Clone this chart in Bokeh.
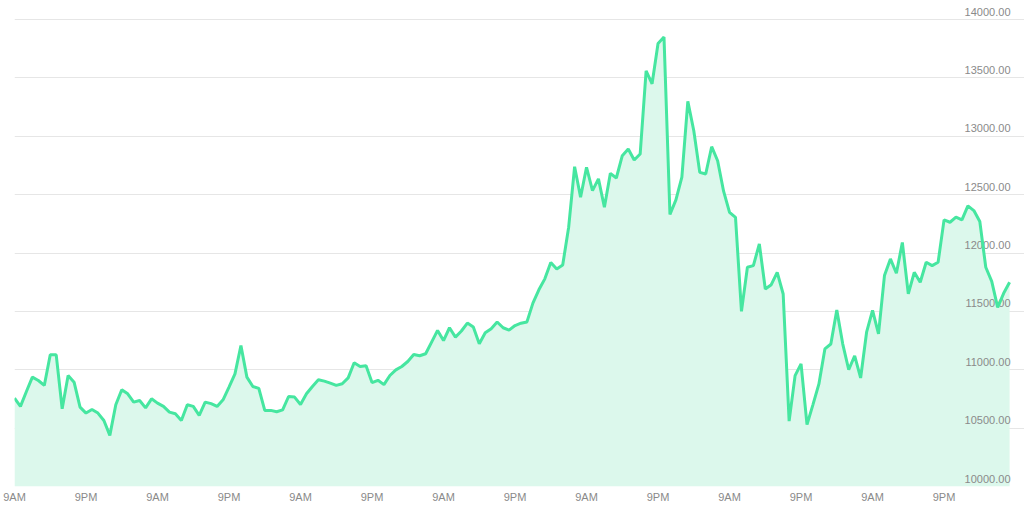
from bokeh.plotting import figure
from bokeh.models import Range1d, FixedTicker
from bokeh.embed import file_html
from bokeh.resources import INLINE
from bokeh.core.properties import value

# hourly prices, starting 9AM day 1
prices = [
    10757, 10686, 10814, 10937, 10908, 10866, 11128, 11128, 10666, 10950,
    10894, 10680, 10629, 10660, 10629, 10566, 10438, 10700, 10829, 10794,
    10723, 10737, 10674, 10751, 10714, 10686, 10637, 10623, 10566, 10700,
    10686, 10609, 10723, 10710, 10686, 10743, 10852, 10965, 11208, 10937,
    10857, 10840, 10652, 10652, 10640, 10657, 10771, 10766, 10703, 10794,
    10857, 10914, 10903, 10886, 10866, 10880, 10931, 11060, 11028, 11034,
    10890, 10910, 10873, 10951, 10999, 11028, 11071, 11131, 11120, 11137,
    11237, 11337, 11250, 11360, 11280, 11332, 11400, 11366, 11223, 11317,
    11352, 11409, 11360, 11340, 11379, 11399, 11410, 11571, 11685, 11779,
    11919, 11864, 11897, 12221, 12740, 12478, 12735, 12535, 12635, 12392,
    12683, 12643, 12834, 12891, 12797, 12848, 13560, 13450, 13795, 13850,
    12330, 12455, 12650, 13300, 13048, 12691, 12677, 12911, 12791, 12530,
    12349, 12306, 11500, 11878, 11892, 12078, 11692, 11729, 11835, 11649,
    10560, 10950, 11050, 10530, 10702, 10879, 11179, 11221, 11512, 11220,
    11000, 11120, 10930, 11322, 11508, 11308, 11807, 11950, 11827, 12090,
    11650, 11835, 11750, 11921, 11892, 11921, 12284, 12264, 12307, 12284,
    12404, 12364, 12270, 11878, 11758, 11535, 11655, 11750,
]
hours = list(range(len(prices)))

x_tick_hours = [0, 12, 24, 36, 48, 60, 72, 84, 96, 108, 120, 132, 144, 156]
x_tick_labels = ["9AM", "9PM", "9AM", "9PM", "9AM", "9PM", "9AM",
                 "9PM", "9AM", "9PM", "9AM", "9PM", "9AM", "9PM"]
y_ticks = [10000, 10500, 11000, 11500, 12000, 12500, 13000, 13500, 14000]
y_tick_labels = ["10000.00", "10500.00", "11000.00", "11500.00", "12000.00",
                 "12500.00", "13000.00", "13500.00", "14000.00"]

x_end = 169.5
y_min, y_max = 10000, 14155

p = figure(width=1024, height=511, output_backend="svg", toolbar_location=None,
           x_range=Range1d(0, x_end), y_range=Range1d(y_min, y_max),
           min_border_left=14, min_border_right=0, min_border_top=1,
           min_border_bottom=25)
p.outline_line_color = None
p.background_fill_color = "white"
p.border_fill_color = "white"

p.yaxis.visible = False
p.xgrid.visible = False
p.ygrid.ticker = FixedTicker(ticks=y_ticks)
p.ygrid.grid_line_color = "#e6e6e6"
p.ygrid.grid_line_width = 1

p.xaxis.ticker = FixedTicker(ticks=x_tick_hours)
p.xaxis.major_label_overrides = dict(zip(x_tick_hours, x_tick_labels))
p.xaxis.axis_line_color = None
p.xaxis.major_tick_line_color = None
p.xaxis.minor_tick_line_color = None
p.xaxis.major_tick_out = 0
p.xaxis.major_label_standoff = 4
p.xaxis.major_label_text_font = "Liberation Sans"
p.xaxis.major_label_text_font_size = "11px"
p.xaxis.major_label_text_color = "#8a8a8a"

p.varea(x=hours, y1=[y_min] * len(hours), y2=prices, fill_color="#dcf8ec")

p.text(x=[x_end] * len(y_ticks), y=y_ticks, text=y_tick_labels,
       text_align="right", text_baseline="bottom", x_offset=-14, y_offset=-4,
       text_font=value("Liberation Sans"), text_font_size="11px",
       text_color="#8a8a8a")

p.line(hours, prices, line_color="#46e6a0", line_width=3)

open("out.html", "w").write(file_html(p, INLINE))
